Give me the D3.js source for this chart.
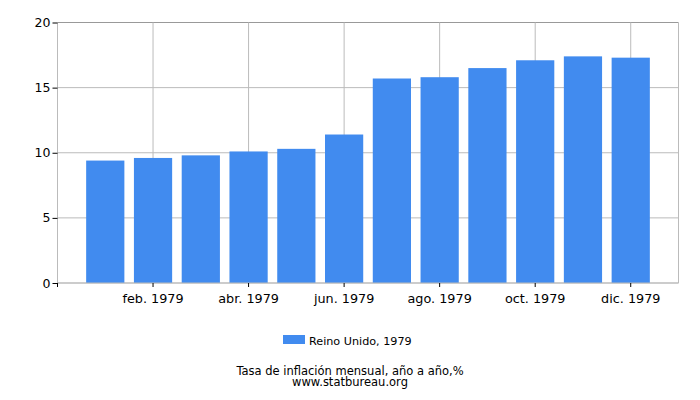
<!DOCTYPE html>
<html>
<head>
<meta charset="utf-8">
<script src="https://cdn.jsdelivr.net/npm/d3@7"></script>
<style>
  body { margin: 0; background: #fff; }
  text { font-family: "DejaVu Sans", sans-serif; }
</style>
</head>
<body>
<div id="chart"></div>
<script>
const months = ["ene. 1979", "feb. 1979", "mar. 1979", "abr. 1979", "may. 1979", "jun. 1979",
  "jul. 1979", "ago. 1979", "sep. 1979", "oct. 1979", "nov. 1979", "dic. 1979"];
const values = [9.4, 9.6, 9.8, 10.1, 10.3, 11.4, 15.7, 15.8, 16.5, 17.1, 17.4, 17.3];
const yTicks = [0, 5, 10, 15, 20];
const seriesName = "Reino Unido, 1979";
const title = "Tasa de inflación mensual, año a año,%";
const source = "www.statbureau.org";

const width = 700;
const height = 400;
const margin = { top: 22.5, right: 21.5, bottom: 117, left: 57.5 };

const svg = d3.select("#chart")
  .append("svg")
  .attr("width", width)
  .attr("height", height);

const x = d3.scaleBand()
  .domain(months)
  .range([margin.left, width - margin.right])
  .paddingInner(0.2)
  .paddingOuter(0.6);

const y = d3.scaleLinear([0, 20], [height - margin.bottom, margin.top]);

// horizontal grid
svg.append("g")
  .selectAll("line")
  .data(yTicks)
  .join("line")
  .attr("x1", margin.left)
  .attr("x2", width - margin.right)
  .attr("y1", d => y(d))
  .attr("y2", d => y(d))
  .attr("stroke", d => d === 20 ? "#999" : "#bbb")
  .attr("stroke-width", 1);

// vertical grid at labelled months
const labelled = months.filter((d, i) => i % 2 === 1);
svg.append("g")
  .selectAll("line")
  .data(labelled)
  .join("line")
  .attr("x1", d => x(d) + x.bandwidth() / 2)
  .attr("x2", d => x(d) + x.bandwidth() / 2)
  .attr("y1", y(20))
  .attr("y2", y(0))
  .attr("stroke", "#bbb");

// frame left and right
svg.append("line")
  .attr("x1", margin.left).attr("x2", margin.left)
  .attr("y1", y(20)).attr("y2", y(0))
  .attr("stroke", "#bbb");
svg.append("line")
  .attr("x1", width - margin.right).attr("x2", width - margin.right)
  .attr("y1", y(20)).attr("y2", y(0))
  .attr("stroke", "#bbb");

// bars
svg.append("g")
  .selectAll("rect")
  .data(values)
  .join("rect")
  .attr("x", (d, i) => x(months[i]))
  .attr("y", d => y(d))
  .attr("width", x.bandwidth())
  .attr("height", d => y(0) - y(d))
  .attr("fill", "#418bef");

// y axis
const yAxis = svg.append("g")
  .attr("transform", `translate(${margin.left},0)`)
  .call(d3.axisLeft(y).tickValues(yTicks).tickSize(5).tickPadding(2))
  .call(g => g.select(".domain").remove());
yAxis.selectAll(".tick line").attr("stroke", "#000");
yAxis.selectAll(".tick text")
  .attr("font-size", 12.5)
  .attr("font-family", "DejaVu Sans, sans-serif")
  .attr("fill", "#000");

// x axis
svg.append("line")
  .attr("x1", margin.left).attr("x2", width - margin.right)
  .attr("y1", y(0)).attr("y2", y(0))
  .attr("stroke", "#bbb");

const xAxis = svg.append("g")
  .attr("transform", `translate(0,${y(0)})`)
  .call(d3.axisBottom(x).tickValues(labelled).tickSize(4).tickPadding(7))
  .call(g => g.select(".domain").remove());
xAxis.selectAll(".tick line").attr("stroke", "#000");
xAxis.selectAll(".tick text")
  .attr("font-size", 12.8)
  .attr("font-family", "DejaVu Sans, sans-serif")
  .attr("fill", "#000");

// left edge tick
svg.append("line")
  .attr("x1", margin.left).attr("x2", margin.left)
  .attr("y1", y(0)).attr("y2", y(0) + 4)
  .attr("stroke", "#000");

// legend
const legend = svg.append("g")
  .attr("transform", "translate(283,335)");
legend.append("rect")
  .attr("width", 22)
  .attr("height", 9)
  .attr("fill", "#418bef");
legend.append("text")
  .attr("x", 26)
  .attr("y", 9.5)
  .attr("font-size", 11.2)
  .attr("fill", "#000")
  .text(seriesName);

svg.append("text")
  .attr("x", width / 2)
  .attr("y", 374.5)
  .attr("text-anchor", "middle")
  .attr("font-size", 11.5)
  .attr("fill", "#000")
  .text(title);

svg.append("text")
  .attr("x", width / 2)
  .attr("y", 386)
  .attr("text-anchor", "middle")
  .attr("font-size", 11.5)
  .attr("fill", "#000")
  .text(source);
</script>
</body>
</html>
